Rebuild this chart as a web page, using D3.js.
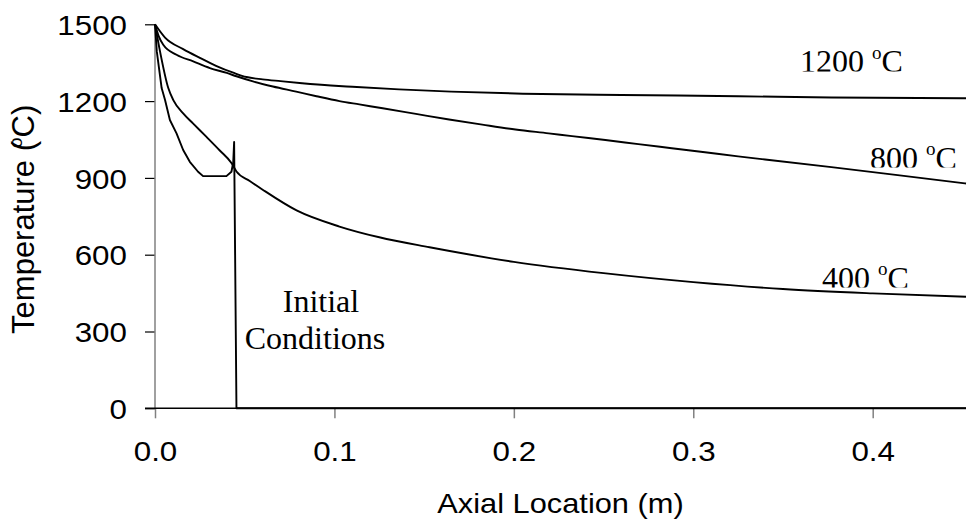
<!DOCTYPE html>
<html>
<head>
<meta charset="utf-8">
<script src="https://cdn.jsdelivr.net/npm/d3@7"></script>
<style>
  body { margin: 0; background: #fff; }
  svg { display: block; }
</style>
</head>
<body>
<svg id="chart" width="972" height="529"></svg>
<script>
// Axis ticks
const xTicks = [0, 0.1, 0.2, 0.3, 0.4];
const yTicks = [0, 300, 600, 900, 1200, 1500];

// Gas temperature (°C) along the axial location (m) for each wall temperature
const wall1200 = [
  [0, 1500], [0.0056, 1448], [0.0157, 1403], [0.025, 1369], [0.034, 1338],
  [0.044, 1310], [0.051, 1294], [0.06, 1285], [0.07, 1278], [0.082, 1270],
  [0.098, 1261], [0.11, 1256], [0.136, 1246], [0.165, 1237], [0.205, 1229],
  [0.26, 1224], [0.325, 1219], [0.377, 1214], [0.452, 1211]
];
const wall800 = [
  [0, 1500], [0.002, 1455], [0.0046, 1420], [0.012, 1381], [0.0213, 1355],
  [0.0306, 1329], [0.04, 1310], [0.0454, 1297], [0.0546, 1277], [0.0657, 1257],
  [0.0787, 1237], [0.09, 1219], [0.1028, 1200], [0.1139, 1187], [0.1269, 1172],
  [0.1454, 1150], [0.1639, 1128], [0.1824, 1108], [0.2009, 1089], [0.2194, 1074],
  [0.2324, 1063], [0.251, 1048], [0.2694, 1032], [0.288, 1016], [0.3065, 1000],
  [0.325, 984], [0.34, 972], [0.377, 942], [0.4139, 911], [0.452, 878]
];
const wall400 = [
  [0, 1500], [0.0028, 1394], [0.0074, 1251], [0.0102, 1204], [0.0157, 1152],
  [0.0213, 1112], [0.0287, 1060], [0.0361, 1007], [0.0426, 958], [0.0454, 925],
  [0.0528, 888], [0.06, 854], [0.0789, 773], [0.1028, 710], [0.125, 668],
  [0.153, 629], [0.2, 572], [0.25, 528], [0.3, 493], [0.35, 466],
  [0.4, 449], [0.452, 436]
];
const initialCond = [
  [0, 1500], [0.001, 1394], [0.0037, 1251], [0.0056, 1204], [0.0083, 1126],
  [0.012, 1074], [0.0157, 1009], [0.0194, 963], [0.024, 924], [0.0268, 907],
  [0.0398, 907], [0.0426, 924], [0.0436, 960], [0.0441, 1040], [0.0454, 0],
  [0.452, 0]
];

const labelTexts = ["1200 ", "800 ", "400 "];
const noteLines = ["Initial", "Conditions"];

const svg = d3.select("#chart");
const x = d3.scaleLinear().domain([0, 0.452]).range([155, 966]);
const y = d3.scaleLinear().domain([0, 1500]).range([408.3, 24.3]);

const sans = "'Liberation Sans', Arial, sans-serif";
const serif = "'Liberation Serif', 'Times New Roman', serif";

// widen sans text slightly, keeping its anchor
function widen(sel, k) {
  sel.each(function () {
    const len = this.getComputedTextLength();
    d3.select(this).attr("textLength", len * k).attr("lengthAdjust", "spacingAndGlyphs");
  });
}

// Y axis
const yAxis = svg.append("g").attr("transform", `translate(${x(0)},0)`)
  .call(d3.axisLeft(y).tickValues(yTicks).tickSize(10).tickPadding(18).tickFormat(d3.format("d")));
yAxis.select(".domain").remove();
yAxis.selectAll(".tick line").attr("stroke", "#000").attr("stroke-width", 1.2);
yAxis.selectAll(".tick text")
  .attr("font-family", sans).attr("font-size", 28.5).attr("fill", "#000")
  .attr("dy", "0.36em");
widen(yAxis.selectAll(".tick text"), 1.1);
svg.append("line")
  .attr("x1", x(0)).attr("x2", x(0)).attr("y1", y(1500)).attr("y2", y(0))
  .attr("stroke", "#808080").attr("stroke-width", 1.5);

// X axis
const xAxis = svg.append("g").attr("transform", `translate(0,${y(0)})`)
  .call(d3.axisBottom(x).tickValues(xTicks).tickSize(10).tickPadding(22).tickFormat(d3.format(".1f")));
xAxis.select(".domain").remove();
xAxis.selectAll(".tick line").attr("stroke", "#808080").attr("stroke-width", 1.5);
xAxis.selectAll(".tick text")
  .attr("font-family", sans).attr("font-size", 28.5).attr("fill", "#000");
widen(xAxis.selectAll(".tick text"), 1.1);
svg.append("line")
  .attr("x1", x(0) - 10).attr("x2", x(0.452)).attr("y1", y(0)).attr("y2", y(0))
  .attr("stroke", "#000").attr("stroke-width", 1.5);

// Axis titles
const xTitle = svg.append("text")
  .attr("x", (x(0) + x(0.452)) / 2).attr("y", 513)
  .attr("text-anchor", "middle")
  .attr("font-family", sans).attr("font-size", 28)
  .text("Axial Location (m)");
widen(xTitle, 1.1);

const yTitle = svg.append("text")
  .attr("transform", `translate(34,${(y(0) + y(1500)) / 2 + 3}) rotate(-90)`)
  .attr("text-anchor", "middle")
  .attr("font-family", sans).attr("font-size", 31);
yTitle.append("tspan").text("Temperature (");
yTitle.append("tspan").attr("font-size", 19).attr("dx", -7).attr("dy", -12).text("o");
yTitle.append("tspan").attr("dy", 12).text("C)");

// Curves
const smooth = d3.line().x(d => x(d[0])).y(d => y(d[1])).curve(d3.curveMonotoneX);
const straight = d3.line().x(d => x(d[0])).y(d => y(d[1]));
const curves = svg.append("g").attr("fill", "none").attr("stroke", "#000")
  .attr("stroke-width", 1.9).attr("stroke-linejoin", "round");
[wall1200, wall800, wall400].forEach(s => curves.append("path").attr("d", smooth(s)));
curves.append("path").attr("d", straight(initialCond));

// Curve labels (bottoms trimmed by their boxes)
const defs = svg.append("defs");
const labelPos = [[800, 72, 71.5], [870, 168.5, 167.5], [822, 288.5, 287.5]];
labelTexts.forEach((t, i) => {
  const [lx, ly, cut] = labelPos[i];
  const id = "clip" + i;
  defs.append("clipPath").attr("id", id).append("rect")
    .attr("x", lx - 5).attr("y", ly - 40).attr("width", 140).attr("height", cut - (ly - 40));
  const tx = svg.append("text").attr("clip-path", `url(#${id})`)
    .attr("x", lx).attr("y", ly)
    .attr("font-family", serif).attr("font-size", 32).attr("fill", "#000");
  tx.append("tspan").text(t);
  tx.append("tspan").attr("font-size", 19).attr("dy", -13.5).text("o");
  tx.append("tspan").attr("dy", 13.5).text("C");
});

// Initial conditions note
const notePos = [[321, 312], [315, 349]];
noteLines.forEach((t, i) => {
  svg.append("text")
    .attr("x", notePos[i][0]).attr("y", notePos[i][1])
    .attr("text-anchor", "middle")
    .attr("font-family", serif).attr("font-size", 32).attr("fill", "#000")
    .text(t);
});
</script>
</body>
</html>
